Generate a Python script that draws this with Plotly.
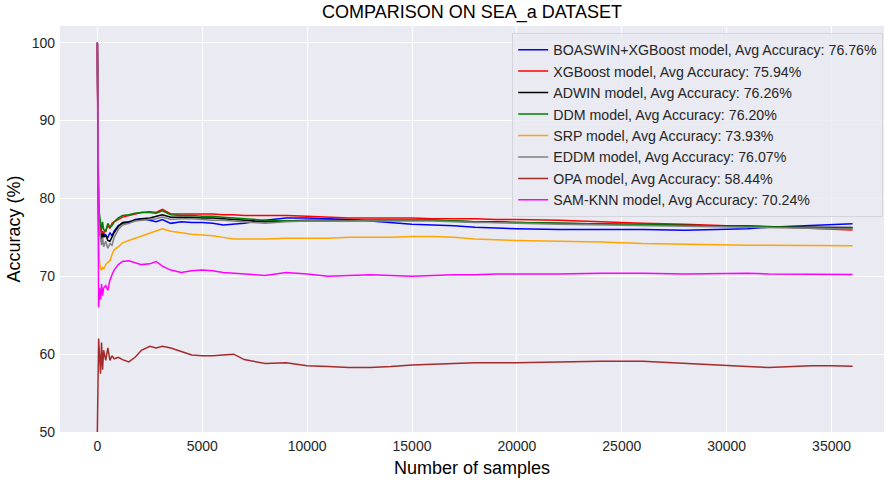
import plotly.graph_objects as go

# Sample positions (number of processed samples) at which the running accuracy was logged
samples = [0, 30, 60, 100, 150, 200, 250, 300, 400, 500, 600, 700, 800,
           1000, 1200, 1500, 1800, 2100, 2500, 2800, 3100, 3500, 4000,
           4500, 5000, 5500, 6000, 6500, 7000, 8000, 9000, 10000, 11000,
           12000, 13000, 14000, 15000, 16000, 17000, 18000, 19000, 20000, 22000,
           24000, 26000, 28000, 30000, 31000, 32000, 33000, 34000, 35000, 36000]

# Running accuracy (%) for every model
acc_boaswin = [100, 80, 78, 77, 76, 75.5, 75, 75.5, 75.2, 75.0, 75.6, 75.2, 75.8,
               76.5, 76.8, 76.9, 77.3, 77.4, 77.2, 77.0, 77.3, 76.8, 77.0,
               76.9, 76.9, 76.8, 76.6, 76.7, 76.8, 77.2, 77.5, 77.5, 77.4,
               77.3, 77.1, 76.9, 76.7, 76.6, 76.5, 76.3, 76.2, 76.1, 76.0,
               76.0, 76.0, 75.9, 76.0, 76.1, 76.3, 76.4, 76.5, 76.6, 76.76]
acc_xgboost = [100, 79, 77, 76.5, 76, 75.5, 75.8, 75.6, 75.8, 76.5, 76.2, 76.8, 77.0,
               77.3, 77.6, 77.8, 78.0, 78.2, 78.3, 78.2, 78.6, 78.0, 78.0,
               78.0, 78.0, 78.0, 77.9, 77.9, 77.8, 77.8, 77.8, 77.7, 77.6,
               77.5, 77.5, 77.5, 77.5, 77.4, 77.4, 77.4, 77.3, 77.3, 77.2,
               77.0, 76.8, 76.7, 76.5, 76.5, 76.4, 76.3, 76.2, 76.1, 75.94]
acc_adwin = [100, 78, 76, 75.5, 75, 74.8, 75.5, 75.0, 75.3, 74.6, 74.5, 75.0, 75.6,
             76.4, 76.9, 77.0, 77.2, 77.4, 77.5, 77.7, 77.9, 77.6, 77.6,
             77.6, 77.5, 77.5, 77.4, 77.3, 77.2, 77.0, 77.1, 77.2, 77.2,
             77.2, 77.2, 77.2, 77.2, 77.2, 77.1, 77.0, 77.0, 76.9, 76.8,
             76.7, 76.6, 76.5, 76.4, 76.4, 76.3, 76.3, 76.3, 76.3, 76.26]
acc_ddm = [100, 81.3, 80, 78, 76.5, 76.0, 77.0, 76.0, 75.8, 76.8, 76.3, 76.5, 77.0,
           77.5, 77.8, 77.9, 78.1, 78.2, 78.2, 78.1, 78.4, 77.9, 77.8,
           77.8, 77.7, 77.7, 77.6, 77.5, 77.4, 77.2, 77.1, 77.1, 77.1,
           77.1, 77.2, 77.2, 77.2, 77.2, 77.1, 77.0, 76.9, 76.9, 76.8,
           76.7, 76.6, 76.5, 76.4, 76.4, 76.3, 76.3, 76.2, 76.2, 76.20]
acc_srp = [100, 77, 75, 72, 71.0, 70.8, 71.2, 70.9, 71.5, 71.8, 72.0, 72.8, 73.4,
           73.8, 74.3, 74.6, 74.9, 75.2, 75.5, 75.8, 76.1, 75.8, 75.6,
           75.4, 75.3, 75.2, 75.0, 74.8, 74.8, 74.8, 74.9, 74.9, 74.9,
           75.0, 75.0, 75.0, 75.1, 75.1, 75.0, 74.8, 74.7, 74.6, 74.5,
           74.4, 74.2, 74.1, 74.0, 74.0, 74.0, 74.0, 74.0, 73.95, 73.93]
acc_eddm = [100, 81, 78, 76, 75, 74, 75, 73.8, 74.5, 73.6, 74.2, 74.0, 75.0,
            76.0, 76.6, 76.8, 77.1, 77.2, 77.3, 77.4, 77.6, 77.3, 77.4,
            77.4, 77.3, 77.2, 77.2, 77.1, 77.0, 76.8, 77.0, 77.1, 77.1,
            77.1, 77.1, 77.1, 77.1, 77.1, 77.0, 76.9, 76.9, 76.8, 76.7,
            76.6, 76.5, 76.4, 76.3, 76.3, 76.2, 76.2, 76.1, 76.1, 76.07]
acc_opa = [50, 58, 62.0, 60.0, 57.5, 61.5, 58.0, 60.5, 59.2, 60.8, 59.2, 59.8, 59.4,
           59.6, 59.3, 59.0, 59.6, 60.5, 61.0, 60.8, 61.0, 60.8, 60.3,
           59.9, 59.8, 59.8, 59.9, 60.0, 59.3, 58.8, 58.9, 58.5, 58.4,
           58.3, 58.3, 58.4, 58.6, 58.7, 58.8, 58.9, 58.9, 58.9, 59.0,
           59.1, 59.1, 58.8, 58.5, 58.4, 58.3, 58.4, 58.5, 58.5, 58.44]
acc_samknn = [100, 86, 66, 68.5, 67.0, 69.0, 67.5, 68.5, 68.8, 68.2, 69.5, 70.2, 70.8,
              71.5, 71.9, 72.0, 71.7, 71.5, 71.6, 71.9, 71.3, 70.8, 70.5,
              70.7, 70.8, 70.7, 70.5, 70.4, 70.3, 70.1, 70.5, 70.3, 70.0,
              70.1, 70.2, 70.1, 70.0, 70.1, 70.2, 70.2, 70.3, 70.3, 70.3,
              70.4, 70.4, 70.3, 70.4, 70.4, 70.3, 70.3, 70.3, 70.3, 70.24]

series_names = [
    "BOASWIN+XGBoost model, Avg Accuracy: 76.76%",
    "XGBoost model, Avg Accuracy: 75.94%",
    "ADWIN model, Avg Accuracy: 76.26%",
    "DDM model, Avg Accuracy: 76.20%",
    "SRP model, Avg Accuracy: 73.93%",
    "EDDM model, Avg Accuracy: 76.07%",
    "OPA model, Avg Accuracy: 58.44%",
    "SAM-KNN model, Avg Accuracy: 70.24%",
]
series_values = [acc_boaswin, acc_xgboost, acc_adwin, acc_ddm,
                 acc_srp, acc_eddm, acc_opa, acc_samknn]
series_colors = ["#0000FF", "#FF0000", "#000000", "#008000",
                 "#FFA500", "#808080", "#A52A2A", "#FF00FF"]

FONT = "Liberation Sans, Arial, sans-serif"

fig = go.Figure()
for name, vals, col in zip(series_names, series_values, series_colors):
    fig.add_trace(go.Scatter(
        x=samples, y=vals, mode="lines", name=name,
        line=dict(color=col, width=1.5),
    ))

fig.update_layout(
    width=886, height=481,
    margin=dict(l=60, r=2, t=26, b=49),
    paper_bgcolor="white",
    plot_bgcolor="#EAEAF2",
    font=dict(family=FONT, size=14, color="#262626"),
    title=dict(text="COMPARISON ON SEA_a DATASET", x=0.5, xref="paper",
               y=1 - 12 / 481, yanchor="middle",
               font=dict(family=FONT, size=18, color="black")),
    legend=dict(
        x=0.999, y=0.983, xanchor="right", yanchor="top",
        bgcolor="rgba(234,234,242,0.85)",
        bordercolor="#D4D4DC", borderwidth=1,
        font=dict(family=FONT, size=14.2, color="#262626"),
        itemwidth=30, tracegroupgap=0,
    ),
    showlegend=True,
)

fig.update_xaxes(
    range=[-1780, 37500],
    tickmode="array", tickvals=[0, 5000, 10000, 15000, 20000, 25000, 30000, 35000],
    ticktext=["0", "5000", "10000", "15000", "20000", "25000", "30000", "35000"],
    showgrid=True, gridcolor="white", gridwidth=1, zeroline=False,
    showline=False, ticks="", ticklabelstandoff=4,
    title=dict(text="Number of samples", font=dict(size=18, color="black"), standoff=8),
)
fig.update_yaxes(
    range=[50, 102.15],
    tickmode="array", tickvals=[50, 60, 70, 80, 90, 100],
    ticktext=["50", "60", "70", "80", "90", "100"],
    showgrid=True, gridcolor="white", gridwidth=1, zeroline=False,
    showline=False, ticks="", ticklabelstandoff=4,
    title=dict(text="Accuracy (%)", font=dict(size=18, color="black"), standoff=6),
)

fig.write_html("out.html")
